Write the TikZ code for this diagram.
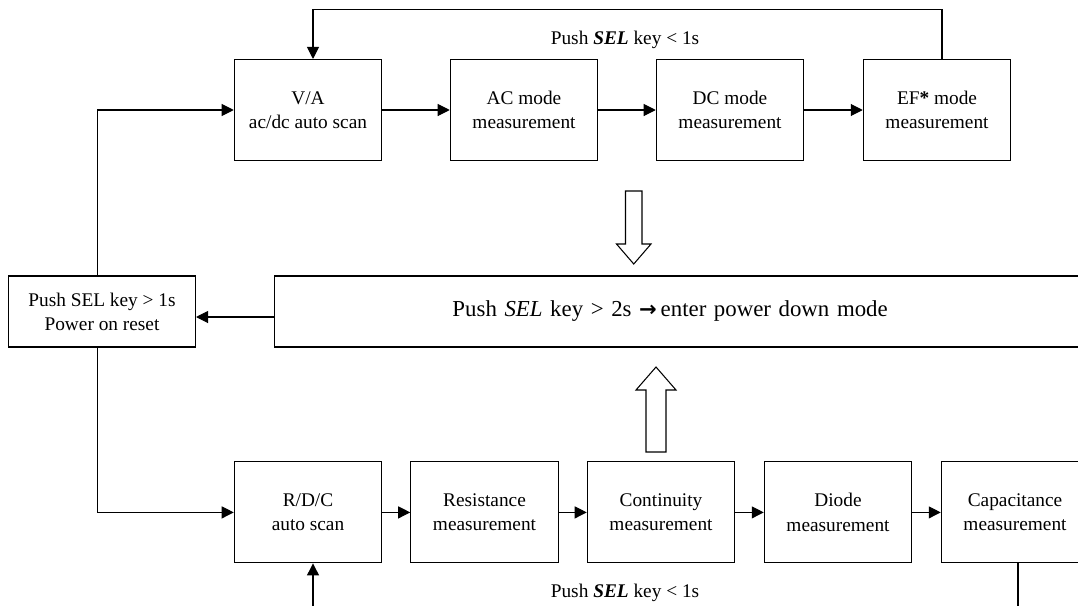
\documentclass[tikz,border=0pt]{standalone}
\usepackage{fontspec}
\setmainfont{Liberation Serif}
\newfontfamily\symfont{DejaVu Sans}
\usetikzlibrary{arrows.meta}

\begin{document}
\begin{tikzpicture}[x=0.02cm,y=-0.02cm,
  blk/.style={draw,line width=0.6pt,minimum width=2.95cm,minimum height=2.02cm,inner sep=0pt,align=center,font=\fontsize{11}{13.7}\selectfont},
  wide/.style={draw,line width=0.6pt,minimum height=1.42cm,inner sep=0pt},
  lbl/.style={font=\fontsize{11}{13.7}\selectfont},
  arr/.style={line width=0.6pt,-{Triangle[length=2.4mm,width=2.4mm]}},
  ln/.style={line width=0.6pt},
  hollow/.style={draw,line width=0.6pt,fill=white,line join=miter}]
\useasboundingbox (0,0) rectangle (1078,605);
\clip (0,0) rectangle (1078,605);

\coordinate (fbtop) at (0,9.3);
\coordinate (botedge) at (0,610);

% V/A row
\node[blk] (va) at (308,110) {V/A\\ac/dc auto scan};
\node[blk] (ac) at (524,110) {AC mode\\measurement};
\node[blk] (dc) at (730,110) {DC mode\\measurement};
\node[blk] (ef) at (937,110) {EF\textbf{*} mode\\measurement};
\node[lbl] (toplbl) at (625,40) {Push \textbf{\textit{SEL}} key < 1s};

\draw[arr] (va) -- (ac);
\draw[arr] (ac) -- (dc);
\draw[arr] (dc) -- (ef);
\draw[arr] ([xshift=0.1cm]ef.north) -- ([xshift=0.1cm]ef.north |- fbtop) -| ([xshift=0.1cm]va.north);

% middle
\node[wide,minimum width=3.74cm,align=center,font=\fontsize{11}{13.7}\selectfont] (reset) at (102,311.5) {Push SEL key > 1s\\Power on reset};
\node[wide,anchor=west,text width=10cm,inner xsep=3.56cm,align=left,font=\fontsize{13}{16}\selectfont] (pd) at (274,311.5) {Push \textit{SEL} key > 2s {\symfont\bfseries\fontsize{12}{14}\selectfont →}\,enter power down mode};

\draw[arr] ([yshift=-0.11cm]pd.west) -- ([yshift=-0.11cm]reset.east);
\draw[arr] ([xshift=-0.09cm]reset.north) |- (va.west);

\draw[hollow] (625.5,191) -- (642,191) -- (642,244) -- (651,244) -- (633.75,264) -- (616.5,244) -- (625.5,244) -- cycle;
\draw[hollow] (646,452) -- (666,452) -- (666,390) -- (676,390) -- (656,367) -- (636,390) -- (646,390) -- cycle;

% R/D/C row
\node[blk] (rdc) at (308,512.4) {R/D/C\\auto scan};
\node[blk] (res) at (484.5,512.4) {Resistance\\measurement};
\node[blk] (cont) at (661,512.4) {Continuity\\measurement};
\node[blk] (diode) at (838,512.4) {Diode\\measurement};
\node[blk] (cap) at (1015,512.4) {Capacitance\\measurement};
\node[lbl] (botlbl) at (625,593) {Push \textbf{\textit{SEL}} key < 1s};

\draw[arr] ([xshift=-0.09cm]reset.south) |- (rdc.west);
\draw[arr] (rdc) -- (res);
\draw[arr] (res) -- (cont);
\draw[arr] (cont) -- (diode);
\draw[arr] (diode) -- (cap);
\draw[ln] ([xshift=0.06cm]cap.south) -- ([xshift=0.06cm]cap.south |- botedge);
\draw[arr] ([xshift=0.1cm]rdc.south |- botedge) -- ([xshift=0.1cm]rdc.south);
\end{tikzpicture}
\end{document}
